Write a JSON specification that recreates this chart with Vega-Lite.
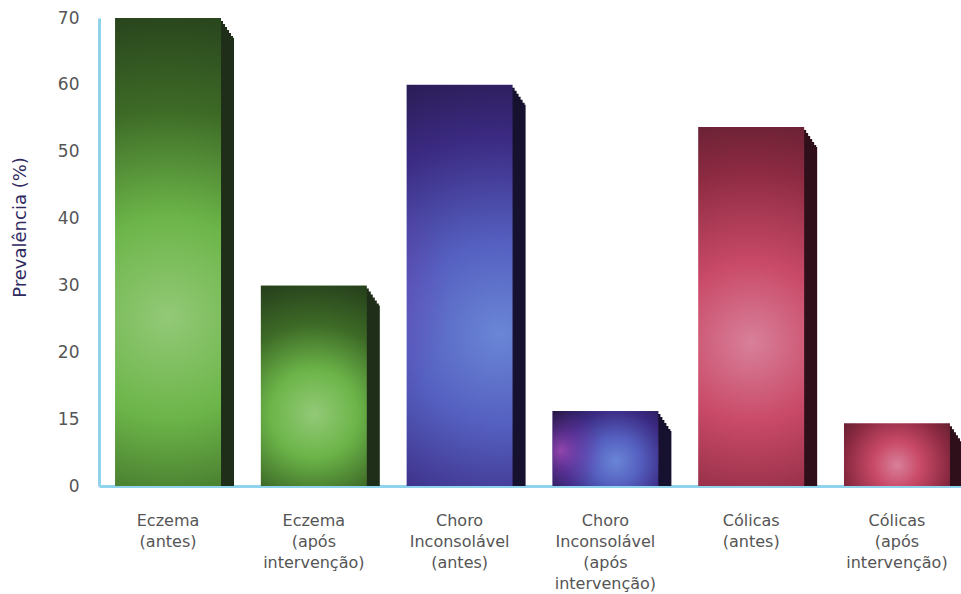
{
  "$schema": "https://vega.github.io/schema/vega-lite/v6.json",
  "width": 862,
  "height": 468,
  "autosize": {"type": "none"},
  "padding": {"left": 99, "top": 18, "right": 0, "bottom": 108},
  "background": "white",
  "config": {
    "view": {"stroke": null},
    "font": "DejaVu Sans",
    "axis": {"grid": false, "ticks": false, "domainColor": "#8fd4ec", "domainWidth": 3, "labelFont": "DejaVu Sans", "labelFontSize": 16, "labelColor": "#555555"}
  },
  "data": {
    "values": [
      {"categoria": "Eczema|(antes)", "grupo": "Eczema", "valor": 70},
      {"categoria": "Eczema|(após|intervenção)", "grupo": "Eczema", "valor": 30},
      {"categoria": "Choro|Inconsolável|(antes)", "grupo": "Choro", "valor": 60},
      {"categoria": "Choro|Inconsolável|(após|intervenção)", "grupo": "Choro", "valor": 11.2},
      {"categoria": "Cólicas|(antes)", "grupo": "Cólicas", "valor": 53.7},
      {"categoria": "Cólicas|(após|intervenção)", "grupo": "Cólicas", "valor": 9.4}
    ]
  },
  "encoding": {
    "x": {
      "field": "categoria",
      "type": "nominal",
      "sort": null,
      "scale": {"range": [0, 867], "paddingInner": 0.273, "paddingOuter": 0.11},
      "axis": {
        "title": null,
        "labelAngle": 0,
        "labelPadding": 34,
        "labelBaseline": "middle",
        "labelLineHeight": 21.2,
        "labelExpr": "split(datum.label, '|')"
      }
    },
    "y": {
      "field": "valor",
      "type": "quantitative",
      "scale": {"domain": [0, 70], "nice": false},
      "axis": {
        "title": "Prevalência (%)",
        "titleColor": "#2f2a5e",
        "titleFont": "DejaVu Sans",
        "titleFontSize": 18,
        "titleFontWeight": "normal",
        "titleAngle": 270,
        "titleAlign": "center",
        "titleBaseline": "middle",
        "titleX": -79,
        "titleY": 209,
        "values": [0, 10, 20, 30, 40, 50, 60, 70],
        "labelPadding": 20,
        "labelFontSize": 17,
        "labelExpr": "datum.value == 10 ? '15' : datum.label"
      }
    }
  },
  "layer": [
    {
      "mark": {"type": "bar", "xOffset": 2, "yOffset": 3, "clip": true},
      "encoding": {"color": {"field": "grupo", "type": "nominal", "scale": {"domain": ["Eczema", "Choro", "Cólicas"], "range": ["#1f2e18", "#15112e", "#2e0f1a"]}, "legend": null}}
    },
    {
      "mark": {"type": "bar", "xOffset": 4, "yOffset": 6, "clip": true},
      "encoding": {"color": {"field": "grupo", "type": "nominal", "legend": null}}
    },
    {
      "mark": {"type": "bar", "xOffset": 6, "yOffset": 9, "clip": true},
      "encoding": {"color": {"field": "grupo", "type": "nominal", "legend": null}}
    },
    {
      "mark": {"type": "bar", "xOffset": 8, "yOffset": 12, "clip": true},
      "encoding": {"color": {"field": "grupo", "type": "nominal", "legend": null}}
    },
    {
      "mark": {"type": "bar", "xOffset": 10, "yOffset": 15, "clip": true},
      "encoding": {"color": {"field": "grupo", "type": "nominal", "legend": null}}
    },
    {
      "mark": {"type": "bar", "xOffset": 12, "yOffset": 18, "clip": true},
      "encoding": {"color": {"field": "grupo", "type": "nominal", "legend": null}}
    },
    {
      "mark": {"type": "bar", "xOffset": 13, "yOffset": 20, "clip": true},
      "encoding": {"color": {"field": "grupo", "type": "nominal", "legend": null}}
    },
    {
      "transform": [{"filter": "datum.grupo == 'Eczema'"}],
      "mark": {
        "type": "bar",
        "color": {
          "gradient": "radial",
          "x1": 0.5, "y1": 0.64, "r1": 0,
          "x2": 0.5, "y2": 0.64, "r2": 0.72,
          "stops": [
            {"offset": 0, "color": "#93c977"},
            {"offset": 0.3, "color": "#6cb549"},
            {"offset": 0.62, "color": "#3d6a26"},
            {"offset": 1, "color": "#22381a"}
          ]
        }
      }
    },
    {
      "transform": [{"filter": "datum.grupo == 'Choro'"}],
      "mark": {
        "type": "bar",
        "color": {
          "gradient": "radial",
          "x1": 0.6, "y1": 0.62, "r1": 0,
          "x2": 0.6, "y2": 0.62, "r2": 0.75,
          "stops": [
            {"offset": 0, "color": "#6a86d6"},
            {"offset": 0.3, "color": "#5560c0"},
            {"offset": 0.65, "color": "#3b2a82"},
            {"offset": 1, "color": "#22163f"}
          ]
        }
      }
    },
    {
      "transform": [{"filter": "datum.grupo == 'Choro'"}],
      "mark": {
        "type": "bar",
        "color": {
          "gradient": "radial",
          "x1": 0.08, "y1": 0.52, "r1": 0,
          "x2": 0.08, "y2": 0.52, "r2": 0.4,
          "stops": [
            {"offset": 0, "color": "rgba(176, 80, 190, 0.75)"},
            {"offset": 0.5, "color": "rgba(140, 60, 180, 0.35)"},
            {"offset": 1, "color": "rgba(120, 50, 170, 0)"}
          ]
        }
      }
    },
    {
      "transform": [{"filter": "datum.grupo == 'Cólicas'"}],
      "mark": {
        "type": "bar",
        "color": {
          "gradient": "radial",
          "x1": 0.5, "y1": 0.6, "r1": 0,
          "x2": 0.5, "y2": 0.6, "r2": 0.74,
          "stops": [
            {"offset": 0, "color": "#d8809a"},
            {"offset": 0.3, "color": "#c94a68"},
            {"offset": 0.65, "color": "#8c2a42"},
            {"offset": 1, "color": "#4e1a28"}
          ]
        }
      }
    }
  ]
}
